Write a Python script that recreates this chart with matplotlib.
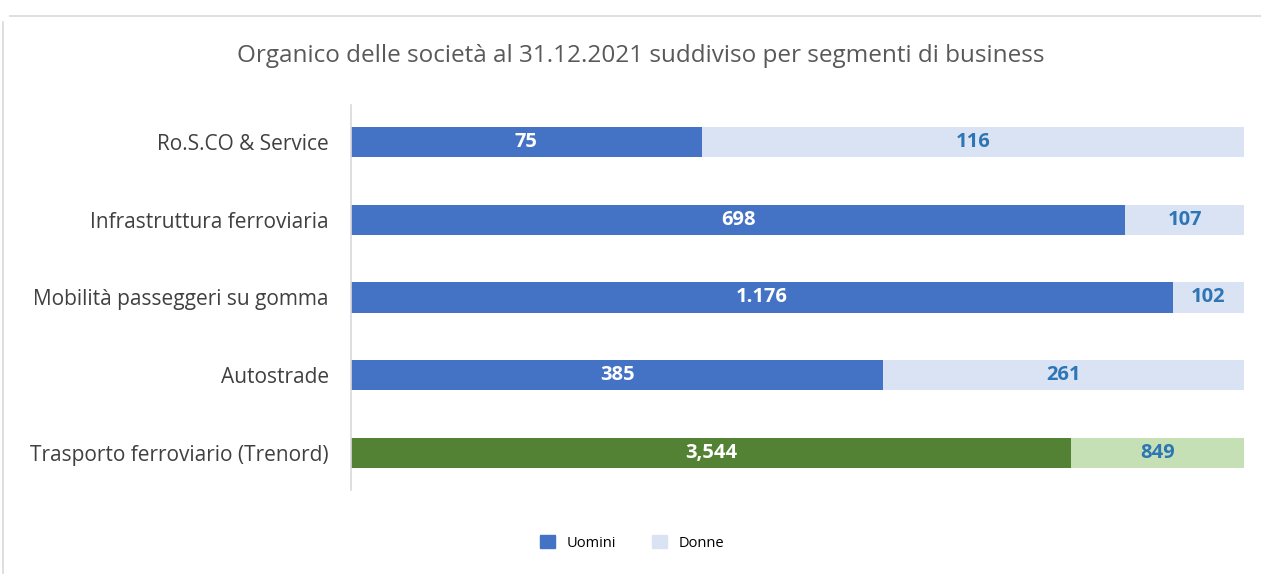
import numpy as np
import matplotlib.pyplot as plt
from matplotlib.patches import Patch

# data (bottom to top)
segmenti = ["Trasporto ferroviario (Trenord)", "Autostrade",
            "Mobilità passeggeri su gomma", "Infrastruttura ferroviaria",
            "Ro.S.CO & Service"]
uomini = [3544, 385, 1176, 698, 75]
donne = [849, 261, 102, 107, 116]
uomini_lbl = ["3,544", "385", "1.176", "698", "75"]
donne_lbl = ["849", "261", "102", "107", "116"]

BLUE = '#4472C4'
LIGHT_BLUE = '#DAE3F3'
GREEN = '#548235'
LIGHT_GREEN = '#C5E0B4'
LBL_BLUE = '#2E75B6'

plt.rcParams['font.family'] = ['Open Sans', 'DejaVu Sans']

fig = plt.figure(figsize=(12.61, 5.74), dpi=100)
ax = fig.add_axes([351/1261, 1-490/574, (1244-351)/1261, (490-105)/574])

tot = np.array(uomini) + np.array(donne)
pu = np.array(uomini) / tot * 100
pd_ = np.array(donne) / tot * 100
y = np.arange(len(segmenti))

c1 = [GREEN] + [BLUE]*4
c2 = [LIGHT_GREEN] + [LIGHT_BLUE]*4
ax.barh(y, pu, height=0.39, color=c1)
ax.barh(y, pd_, left=pu, height=0.39, color=c2)

for i in y:
    ax.text(pu[i]/2, i, uomini_lbl[i], ha='center', va='center',
            color='white', fontsize=14.5, fontweight='bold')
    ax.text(pu[i] + pd_[i]/2, i, donne_lbl[i], ha='center', va='center',
            color=LBL_BLUE, fontsize=14.5, fontweight='bold')

ax.set_xlim(0, 100)
ax.set_ylim(-0.476, 4.476)
ax.set_yticks(y)
ax.set_yticklabels(segmenti, fontsize=15, color='#404040')
ax.tick_params(axis='y', length=0, pad=16)
ax.set_xticks([])
for s in ['top', 'right', 'bottom']:
    ax.spines[s].set_visible(False)
ax.spines['left'].set_color('#D9D9D9')
ax.spines['left'].set_linewidth(1.2)

fig.text(641/1261, 1-56/574, "Organico delle società al 31.12.2021 suddiviso per segmenti di business",
         ha='center', va='center', fontsize=17.5, color='#595959')

handles = [Patch(color=BLUE, label='Uomini'), Patch(color=LIGHT_BLUE, label='Donne')]
fig.legend(handles=handles, loc='center', bbox_to_anchor=(632/1261, 1-543/574), ncol=2,
           frameon=False, fontsize=10.5, handlelength=1.0, handleheight=1.0,
           columnspacing=2.5, handletextpad=0.8)

# chart border
fig.add_artist(plt.Line2D([10/1261, 1], [1-16/574]*2, color='#D9D9D9', lw=1.2))
fig.add_artist(plt.Line2D([3/1261]*2, [0, 1-22/574], color='#D9D9D9', lw=1.2))

fig.savefig('out.png', dpi=100)
